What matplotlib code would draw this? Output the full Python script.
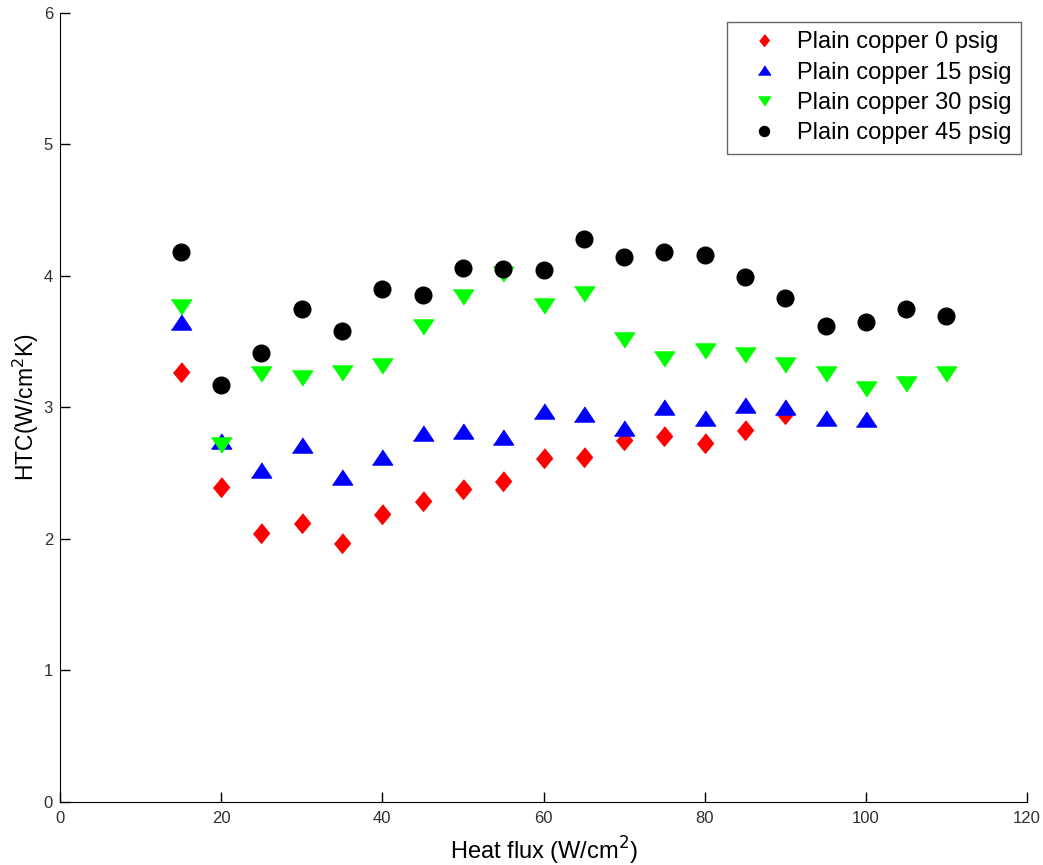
import matplotlib
matplotlib.use('Agg')
import matplotlib.pyplot as plt

plt.rcParams['font.family'] = ['Liberation Sans', 'DejaVu Sans']

# heat flux (W/cm2)
flux_0 = [15, 20, 25, 30, 35, 40, 45, 50, 55, 60, 65, 70, 75, 80, 85, 90]
flux_15 = [15, 20, 25, 30, 35, 40, 45, 50, 55, 60, 65, 70, 75, 80, 85, 90, 95, 100]
flux_30 = [15, 20, 25, 30, 35, 40, 45, 50, 55, 60, 65, 70, 75, 80, 85, 90, 95, 100, 105, 110]
flux_45 = [15, 20, 25, 30, 35, 40, 45, 50, 55, 60, 65, 70, 75, 80, 85, 90, 95, 100, 105, 110]

# HTC (W/cm2K)
htc_0 = [3.27, 2.39, 2.04, 2.12, 1.97, 2.19, 2.29, 2.38, 2.44, 2.61, 2.62, 2.75, 2.78, 2.73, 2.83, 2.95]
htc_15 = [3.65, 2.74, 2.52, 2.71, 2.47, 2.62, 2.80, 2.82, 2.77, 2.97, 2.95, 2.84, 3.00, 2.92, 3.02, 3.00,
          2.92, 2.91]
htc_30 = [3.76, 2.71, 3.25, 3.22, 3.26, 3.31, 3.61, 3.84, 4.01, 3.77, 3.86, 3.51, 3.37, 3.43, 3.40, 3.32,
          3.25, 3.14, 3.18, 3.25]
htc_45 = [4.18, 3.17, 3.41, 3.75, 3.58, 3.90, 3.85, 4.06, 4.05, 4.04, 4.28, 4.14, 4.18, 4.16, 3.99, 3.83,
          3.62, 3.65, 3.75, 3.69]

labels = ['Plain copper 0 psig', 'Plain copper 15 psig', 'Plain copper 30 psig', 'Plain copper 45 psig']

# marker shapes like the matlab ones
diamond = [(0, 1), (0.82, 0), (0, -1), (-0.82, 0)]
tri_up = [(-1, -0.75), (1, -0.75), (0, 0.75)]
tri_down = [(-1, 0.75), (1, 0.75), (0, -0.75)]

fig = plt.figure(figsize=(10.43, 8.65), dpi=100)
ax = fig.add_axes([0.0575, 0.0732, 0.9272, 0.9121])

ax.plot(flux_0, htc_0, linestyle='none', marker=diamond, markersize=14, color='#ff0000', label=labels[0])
ax.plot(flux_15, htc_15, linestyle='none', marker=tri_up, markersize=14.5, color='#0000ff', label=labels[1])
ax.plot(flux_30, htc_30, linestyle='none', marker=tri_down, markersize=14.5, color='#00ff00', label=labels[2])
ax.plot(flux_45, htc_45, linestyle='none', marker='o', markersize=12, color='black', label=labels[3])

ax.set_xlim(0, 120)
ax.set_ylim(0, 6)
ax.set_xticks([0, 20, 40, 60, 80, 100, 120])
ax.set_yticks([0, 1, 2, 3, 4, 5, 6])
ax.spines['top'].set_visible(False)
ax.spines['right'].set_visible(False)
ax.tick_params(direction='in', length=7, width=1, labelsize=12, labelcolor='#303030')
ax.tick_params(axis='x', pad=7)
ax.tick_params(axis='y', pad=5)

ax.set_xlabel('Heat flux (W/cm$^2$)', fontsize=17, labelpad=6)
ax.set_ylabel('HTC(W/cm$^2$K)', fontsize=16.5, labelpad=2)

leg = ax.legend(loc='upper right', bbox_to_anchor=(0.9938, 0.9882), fontsize=17, frameon=True,
                fancybox=False, edgecolor='#404040', markerscale=0.6, handlelength=2.3,
                handletextpad=0.27, borderpad=0.4, labelspacing=0.35, borderaxespad=0)
leg.get_frame().set_linewidth(1)

plt.savefig('out.png', dpi=100)
